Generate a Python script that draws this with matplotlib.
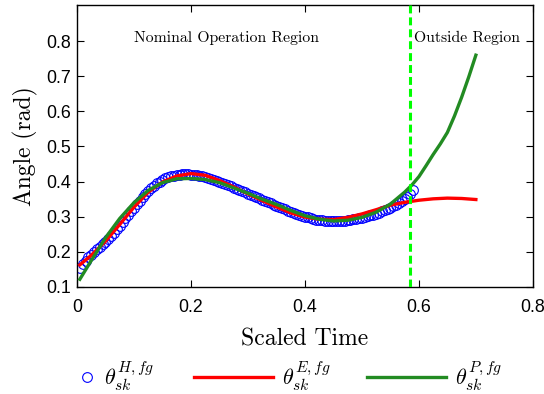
import matplotlib
matplotlib.use("Agg")
import matplotlib.pyplot as plt
from matplotlib.ticker import FuncFormatter

plt.rcParams['mathtext.fontset'] = 'cm'

# Data: heuristic (H) samples, every 0.005 in scaled time
h_x = [round(0.005 * (i + 1), 3) for i in range(118)]
h_y = [0.155, 0.165, 0.175, 0.185, 0.192, 0.199, 0.207, 0.215, 0.222, 0.229,
       0.237, 0.245, 0.255, 0.265, 0.275, 0.285, 0.295, 0.305, 0.315, 0.325,
       0.335, 0.345, 0.355, 0.365, 0.373, 0.381, 0.388, 0.395, 0.400, 0.405,
       0.409, 0.412, 0.415, 0.417, 0.419, 0.420, 0.421, 0.421, 0.421, 0.420,
       0.419, 0.418, 0.416, 0.415, 0.412, 0.410, 0.408, 0.405, 0.402, 0.399,
       0.396, 0.393, 0.390, 0.387, 0.383, 0.380, 0.376, 0.373, 0.370, 0.366,
       0.363, 0.359, 0.356, 0.352, 0.349, 0.345, 0.342, 0.338, 0.334, 0.331,
       0.327, 0.324, 0.321, 0.317, 0.314, 0.311, 0.308, 0.305, 0.303, 0.300,
       0.298, 0.296, 0.294, 0.292, 0.291, 0.290, 0.289, 0.288, 0.288, 0.288,
       0.288, 0.288, 0.289, 0.289, 0.290, 0.291, 0.293, 0.294, 0.296, 0.297,
       0.299, 0.302, 0.304, 0.306, 0.309, 0.312, 0.315, 0.318, 0.322, 0.326,
       0.330, 0.334, 0.339, 0.344, 0.350, 0.357, 0.366, 0.377]

e_x = [0.005, 0.025, 0.05, 0.075, 0.1, 0.125, 0.15, 0.175, 0.2, 0.225,
       0.25, 0.275, 0.3, 0.325, 0.35, 0.375, 0.4, 0.425, 0.45, 0.475,
       0.5, 0.525, 0.55, 0.575, 0.6, 0.625, 0.65, 0.675, 0.7]
e_y = [0.163, 0.190, 0.230, 0.278, 0.327, 0.370, 0.399, 0.416, 0.423, 0.418,
       0.403, 0.385, 0.365, 0.346, 0.328, 0.311, 0.299, 0.293, 0.292, 0.298,
       0.308, 0.320, 0.333, 0.341, 0.347, 0.351, 0.353, 0.352, 0.349]

p_x = [0.005, 0.025, 0.05, 0.075, 0.1, 0.125, 0.15, 0.175, 0.2, 0.225,
       0.25, 0.275, 0.3, 0.325, 0.35, 0.375, 0.4, 0.425, 0.45, 0.475,
       0.5, 0.525, 0.55, 0.575, 0.5875, 0.6, 0.6125, 0.625, 0.6375, 0.65,
       0.6625, 0.675, 0.6875, 0.7]
p_y = [0.122, 0.175, 0.240, 0.295, 0.340, 0.375, 0.397, 0.408, 0.409, 0.406,
       0.397, 0.382, 0.367, 0.350, 0.335, 0.318, 0.303, 0.293, 0.288, 0.290,
       0.298, 0.313, 0.336, 0.370, 0.390, 0.414, 0.445, 0.477, 0.507, 0.540,
       0.587, 0.640, 0.698, 0.760]

boundary_x = 0.584
x_ticks = [0, 0.2, 0.4, 0.6, 0.8]
y_ticks = [0.1, 0.2, 0.3, 0.4, 0.5, 0.6, 0.7, 0.8]
labels = [r'$\theta_{sk}^{H,fg}$', r'$\theta_{sk}^{E,fg}$', r'$\theta_{sk}^{P,fg}$']

fig = plt.figure(figsize=(5.44, 3.94), dpi=100)
ax = fig.add_axes([0.1415, 0.2716, 0.838, 0.7154])

h_line, = ax.plot(h_x, h_y, linestyle='none', marker='o', markersize=7,
                  markerfacecolor='none', markeredgecolor='blue',
                  markeredgewidth=0.8, zorder=2)
e_line, = ax.plot(e_x, e_y, color='red', lw=2.4, zorder=3)
p_line, = ax.plot(p_x, p_y, color='#228B22', lw=2.4, zorder=4)
ax.axvline(boundary_x, color='#00ff00', lw=2.2, linestyle=(0, (2.6, 1.3)), zorder=5)

ax.text(0.263, 0.81, 'Nominal Operation Region', family='cmr10', fontsize=11.3,
        ha='center', va='center')
ax.text(0.591, 0.81, 'Outside Region', family='cmr10', fontsize=11.3,
        ha='left', va='center')

ax.set_xlim(0, 0.8)
ax.set_ylim(0.1, 0.9025)
ax.set_xticks(x_ticks)
ax.set_yticks(y_ticks)
ax.xaxis.set_major_formatter(FuncFormatter(lambda v, p: '0' if v == 0 else f'{v:g}'))
ax.tick_params(direction='in', top=True, right=True, length=5, width=0.8,
               labelsize=12.8)
ax.tick_params(axis='x', pad=8.5)
ax.tick_params(axis='y', pad=4)
for lab in ax.get_xticklabels() + ax.get_yticklabels():
    lab.set_family('Liberation Sans')
for s in ax.spines.values():
    s.set_linewidth(1.0)

ax.set_xlabel('Scaled Time', family='cmr10', fontsize=17, labelpad=9)
ax.set_ylabel('Angle (rad)', family='cmr10', fontsize=17, labelpad=6)

# Legend entries, laid out like the reference (one legend per entry)
W = 544.0
leg_y = (394 - 376) / 394.0
entries = [(h_line, labels[0], 76, 1.0, 0.25),
           (e_line, labels[1], 194, 3.55, 0.4),
           (p_line, labels[2], 367, 3.55, 0.4)]
for handle, lab, x0, hl, htp in entries:
    fig.legend([handle], [lab], loc='center left', bbox_to_anchor=(x0 / W, leg_y),
               frameon=False, fontsize=16, handlelength=hl, handletextpad=htp,
               borderpad=0, borderaxespad=0)

fig.savefig('out.png', dpi=100)
